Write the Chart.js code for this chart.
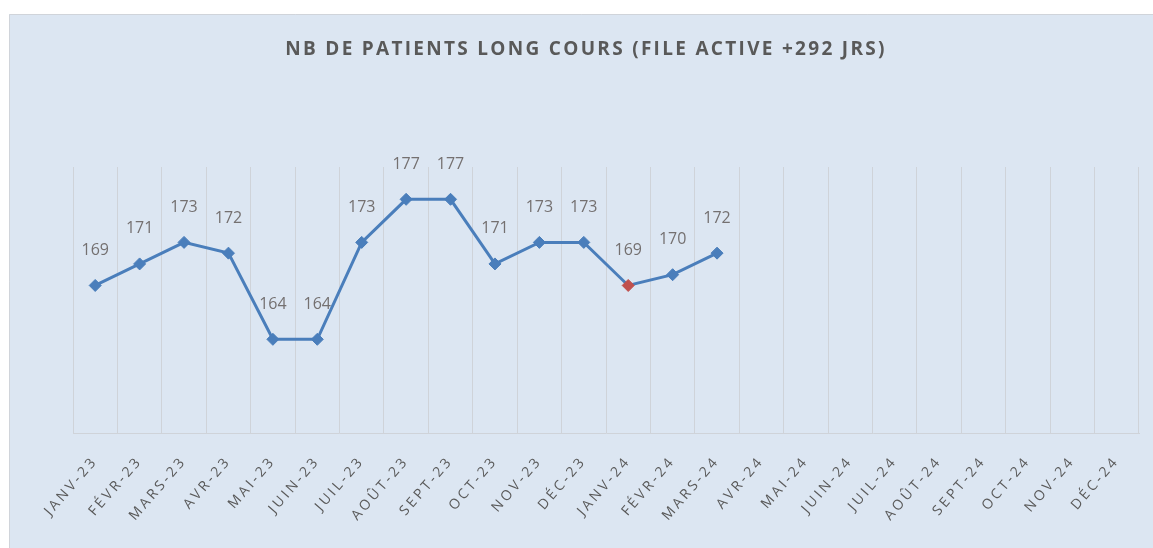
<!DOCTYPE html>
<html>
<head>
<meta charset="utf-8">
<script src="https://cdn.jsdelivr.net/npm/chart.js@4"></script>
<style>
  html, body { margin: 0; padding: 0; background: #fff; }
  canvas { display: block; }
</style>
</head>
<body>
<canvas id="chart" width="1153" height="548"></canvas>
<script>
// mois (axe X)
const months = ['JANV-23', 'FÉVR-23', 'MARS-23', 'AVR-23', 'MAI-23', 'JUIN-23', 'JUIL-23', 'AOÛT-23',
  'SEPT-23', 'OCT-23', 'NOV-23', 'DÉC-23', 'JANV-24', 'FÉVR-24', 'MARS-24', 'AVR-24', 'MAI-24',
  'JUIN-24', 'JUIL-24', 'AOÛT-24', 'SEPT-24', 'OCT-24', 'NOV-24', 'DÉC-24'];
// nb de patients long cours
const patients = [169, 171, 173, 172, 164, 164, 173, 177, 177, 171, 173, 173, 169, 170, 172,
  null, null, null, null, null, null, null, null, null];
const chartTitle = 'NB DE PATIENTS LONG COURS (FILE ACTIVE +292 JRS)';
const highlightIndex = 12;

const lineColor = '#4a7ebb';
const pointColors = patients.map((v, i) => i === highlightIndex ? '#c0504d' : lineColor);

// fond du panneau + titre
const panelPlugin = {
  id: 'panel',
  beforeDraw(chart) {
    const ctx = chart.ctx;
    ctx.save();
    ctx.fillStyle = '#dce6f2';
    ctx.fillRect(9, 14, 1144, 534);
    ctx.strokeStyle = '#d0d4da';
    ctx.lineWidth = 1;
    ctx.beginPath();
    ctx.moveTo(9.5, 548);
    ctx.lineTo(9.5, 14.5);
    ctx.lineTo(1153, 14.5);
    ctx.stroke();
    ctx.fillStyle = '#595959';
    ctx.font = 'bold 19px "Open Sans"';
    ctx.letterSpacing = '2.3px';
    ctx.textAlign = 'center';
    ctx.textBaseline = 'middle';
    ctx.fillText(chartTitle, 586, 50);
    ctx.restore();
    // espacement des étiquettes de l'axe
    ctx.letterSpacing = '3px';
  }
};

// étiquettes de valeurs au-dessus des points
const valueLabels = {
  id: 'valueLabels',
  afterDatasetsDraw(chart) {
    const ctx = chart.ctx;
    const meta = chart.getDatasetMeta(0);
    ctx.save();
    ctx.letterSpacing = '0px';
    ctx.font = '16px "Open Sans"';
    ctx.fillStyle = '#747070';
    ctx.textAlign = 'center';
    ctx.textBaseline = 'middle';
    meta.data.forEach((pt, i) => {
      if (patients[i] == null) return;
      ctx.fillText(String(patients[i]), pt.x, pt.y - 35);
    });
    ctx.restore();
  }
};

new Chart(document.getElementById('chart'), {
  type: 'line',
  data: {
    labels: months,
    datasets: [{
      data: patients,
      borderColor: lineColor,
      borderWidth: 3,
      pointStyle: 'rectRot',
      pointRadius: 6,
      pointHoverRadius: 6,
      pointBackgroundColor: pointColors,
      pointBorderColor: pointColors,
      pointBorderWidth: 1,
      tension: 0,
      spanGaps: false
    }]
  },
  options: {
    responsive: false,
    animation: false,
    layout: { padding: { left: 73, right: 14, top: 167, bottom: 0 } },
    plugins: {
      legend: { display: false },
      title: { display: false },
      tooltip: { enabled: false }
    },
    scales: {
      x: {
        offset: true,
        grid: { offset: true, color: '#cfd3d9', drawTicks: false, lineWidth: 1 },
        border: { color: '#cfd3d9' },
        ticks: {
          autoSkip: false,
          minRotation: 49,
          maxRotation: 49,
          padding: 20,
          color: '#5a5a5a',
          font: { size: 14, family: '"Open Sans"' }
        },
        afterFit(scale) { scale.height = 115; }
      },
      y: {
        display: false,
        min: 155.3,
        max: 180
      }
    }
  },
  plugins: [panelPlugin, valueLabels]
});
</script>
</body>
</html>
